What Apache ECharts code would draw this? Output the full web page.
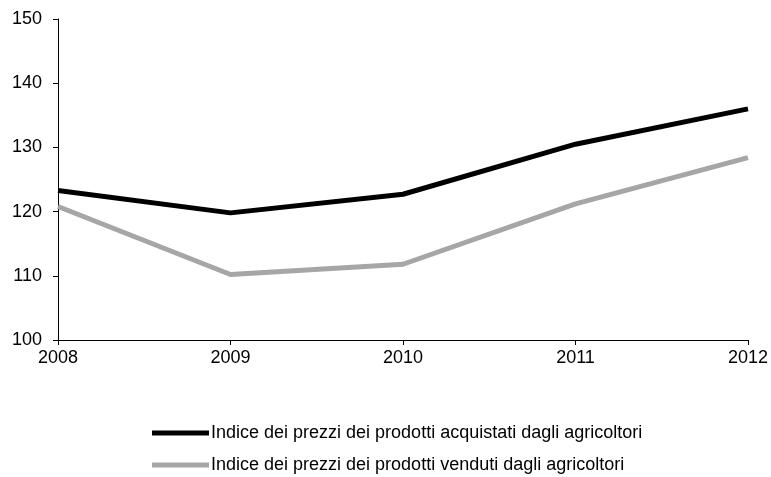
<!DOCTYPE html>
<html><head><meta charset="utf-8">
<script src="https://cdn.jsdelivr.net/npm/echarts@6/dist/echarts.min.js"></script>
<style>html,body{margin:0;padding:0;background:#fff}#c{width:771px;height:477px}</style>
</head><body><div id="c"></div>
<script>
const years = ['2008','2009','2010','2011','2012'];
const acquistati = [123.3, 119.8, 122.7, 130.5, 136.0];
const venduti = [120.8, 110.2, 111.8, 121.2, 128.4];
const seriesNames = ['Indice dei prezzi dei prodotti acquistati dagli agricoltori','Indice dei prezzi dei prodotti venduti dagli agricoltori'];
const FONT = 'Liberation Sans, Arial, sans-serif';
const chart = echarts.init(document.getElementById('c'), null, {renderer:'canvas'});
const legendBase = {orient:'horizontal',left:152,itemWidth:57,itemHeight:5,icon:'rect',padding:0,
    textStyle:{color:'#000',fontSize:18,fontFamily:FONT,padding:[0,0,0,-3]}};
chart.setOption({
  animation:false,
  backgroundColor:'#fff',
  grid:{left:58,right:23,top:19,bottom:137,containLabel:false},
  xAxis:{type:'category',data:years,boundaryGap:false,
    axisLine:{lineStyle:{color:'#000',width:1}},
    axisTick:{show:true,length:5,lineStyle:{color:'#000'}},
    axisLabel:{color:'#000',fontSize:18,fontFamily:FONT,margin:9},
    splitLine:{show:false}},
  yAxis:{type:'value',min:100,max:150,interval:10,
    axisLine:{show:true,lineStyle:{color:'#000',width:1}},
    axisTick:{show:true,length:5,lineStyle:{color:'#000'}},
    axisLabel:{color:'#000',fontSize:18,fontFamily:FONT,margin:16},
    splitLine:{show:false}},
  legend:[
    Object.assign({}, legendBase, {top:424, data:[seriesNames[0]]}),
    Object.assign({}, legendBase, {top:456, data:[seriesNames[1]]})
  ],
  series:[
    {name:seriesNames[0],type:'line',data:acquistati,symbol:'none',lineStyle:{color:'#000',width:5},itemStyle:{color:'#000'}},
    {name:seriesNames[1],type:'line',data:venduti,symbol:'none',lineStyle:{color:'#a6a6a6',width:5},itemStyle:{color:'#a6a6a6'}}
  ]
});
</script></body></html>
